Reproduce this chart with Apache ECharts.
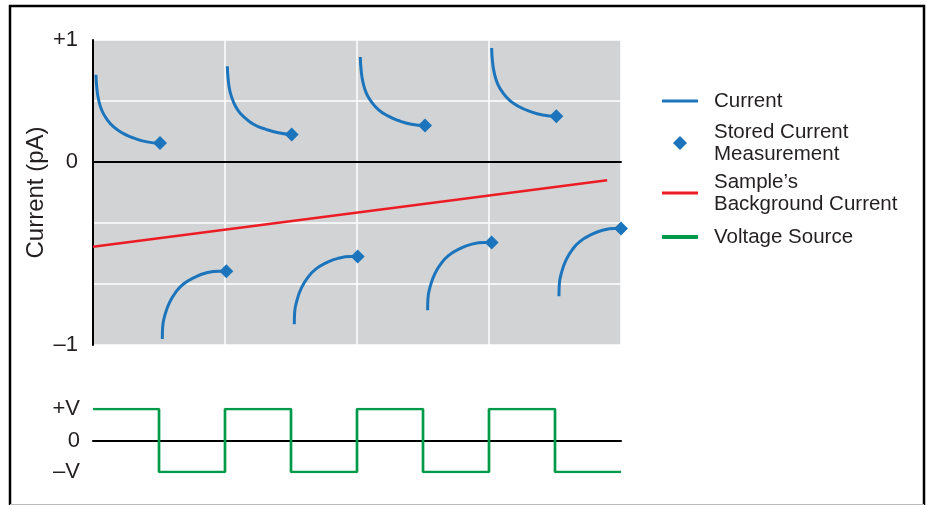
<!DOCTYPE html>
<html>
<head>
<meta charset="utf-8">
<script src="https://cdn.jsdelivr.net/npm/echarts@6/dist/echarts.min.js"></script>
<style>
  html, body { margin: 0; padding: 0; background: #fff; }
  #chart { width: 927px; height: 505px; }
</style>
</head>
<body>
<div id="chart"></div>
<script>
// x in half-periods of the square wave (0..8), y in grid units (0 = zero current)
var decayArc1 = [[0.045,1.43],[0.058,1.21],[0.085,1.02],[0.136,0.84],[0.212,0.70],[0.318,0.57],[0.455,0.47],[0.621,0.39],[0.818,0.33],[1.015,0.31]];
var decayArc2 = [[2.035,1.57],[2.048,1.36],[2.075,1.16],[2.126,0.99],[2.202,0.84],[2.308,0.72],[2.445,0.61],[2.611,0.54],[2.808,0.48],[3.01,0.45]];
var decayArc3 = [[4.05,1.72],[4.063,1.50],[4.09,1.31],[4.141,1.13],[4.217,0.99],[4.323,0.86],[4.46,0.76],[4.626,0.68],[4.823,0.62],[5.03,0.60]];
var decayArc4 = [[6.04,1.87],[6.053,1.65],[6.08,1.46],[6.131,1.28],[6.207,1.14],[6.313,1.01],[6.45,0.91],[6.616,0.83],[6.813,0.77],[7.02,0.75]];

var riseArc1 = [[1.05,-2.90],[1.055,-2.71],[1.095,-2.49],[1.16,-2.30],[1.25,-2.14],[1.37,-2.00],[1.54,-1.89],[1.71,-1.82],[1.91,-1.79],[2.02,-1.79]];
var riseArc2 = [[3.05,-2.66],[3.055,-2.47],[3.095,-2.25],[3.16,-2.06],[3.25,-1.90],[3.37,-1.76],[3.54,-1.65],[3.71,-1.58],[3.91,-1.55],[4.01,-1.55]];
var riseArc3 = [[5.07,-2.43],[5.075,-2.24],[5.115,-2.02],[5.18,-1.83],[5.27,-1.67],[5.39,-1.53],[5.56,-1.42],[5.73,-1.35],[5.93,-1.32],[6.04,-1.32]];
var riseArc4 = [[7.06,-2.20],[7.065,-2.01],[7.105,-1.79],[7.17,-1.60],[7.26,-1.44],[7.38,-1.30],[7.55,-1.19],[7.72,-1.12],[7.90,-1.09],[8.00,-1.09]];

var storedPoints = [[1.015,0.31],[3.01,0.45],[5.03,0.60],[7.02,0.75],[2.02,-1.79],[4.01,-1.55],[6.04,-1.32],[8.00,-1.09]];
var backgroundLine = [[0,-1.39],[7.79,-0.30]];

var voltageX = [0,1,2,3,4,5,6,7,8];
var voltageY = [1,-1,1,-1,1,-1,1,-1,-1];

var currentTickValues = [2, 0, -3];
var currentTickLabels = ['+1', '0', '–1'];
var voltTickValues = [1, 0, -1];
var voltTickLabels = ['+V', '0', '–V'];

var legendNames = ['Current', 'Stored Current Measurement', "Sample’s Background Current", 'Voltage Source'];
var legendTexts = ['Current', 'Stored Current\nMeasurement', "Sample’s\nBackground Current", 'Voltage Source'];

var BLUE = '#1c75bc', RED = '#ed1c24', GREEN = '#009a4a', GRAY = '#d1d3d4';
var FONT = '"Liberation Sans", Arial, sans-serif';

function tickFormatter(values, labels) {
    return function (v) {
        var i = values.indexOf(v);
        return i < 0 ? '' : labels[i];
    };
}

var myChart = echarts.init(document.getElementById('chart'));

var arcSeries = [decayArc1, decayArc2, decayArc3, decayArc4, riseArc1, riseArc2, riseArc3, riseArc4].map(function (arc) {
    return {
        name: 'Current',
        type: 'line',
        xAxisIndex: 0,
        yAxisIndex: 0,
        data: arc,
        smooth: 0.5,
        showSymbol: false,
        color: BLUE,
        lineStyle: { color: BLUE, width: 3 },
        z: 3
    };
});

var voltageData = voltageX.map(function (x, i) { return [x, voltageY[i]]; });

// legend: one block per entry so each row lands where the picture has it
function legendBlock(idx, left, top, icon, w, h, padLeft) {
    return {
        data: [legendNames[idx]],
        orient: 'vertical',
        left: left,
        top: top,
        padding: 0,
        icon: icon,
        itemWidth: w,
        itemHeight: h,
        selectedMode: false,
        formatter: function () { return legendTexts[idx]; },
        textStyle: {
            fontFamily: FONT,
            fontSize: 20.5,
            lineHeight: 22,
            color: '#231f20',
            padding: [0, 0, 0, padLeft]
        }
    };
}

var option = {
    animation: false,
    backgroundColor: '#fff',
    graphic: [
        { type: 'rect', shape: { x: 10, y: 6, width: 914, height: 520 },
          style: { fill: null, stroke: '#000', lineWidth: 2.5 }, silent: true },
        { type: 'line', shape: { x1: 10, y1: 504.5, x2: 924, y2: 504.5 },
          style: { stroke: '#bbbbbb', lineWidth: 1 }, silent: true }
    ],
    legend: [
        legendBlock(0, 662, 90, 'rect', 36, 3, 11),
        legendBlock(1, 673, 121, 'diamond', 14, 14, 22),
        legendBlock(2, 662, 171, 'rect', 36, 3, 11),
        legendBlock(3, 662, 226, 'rect', 36, 4, 11)
    ],
    grid: [
        { left: 93, right: 306, top: 40, bottom: 160, show: true, backgroundColor: GRAY, borderWidth: 0 },
        { left: 93, right: 306, top: 409, height: 63 }
    ],
    xAxis: [
        {
            gridIndex: 0, type: 'value', min: 0, max: 8, interval: 2,
            axisLine: { onZero: true, lineStyle: { color: '#000', width: 2 } },
            axisTick: { show: false },
            axisLabel: { show: false },
            splitLine: { show: true, lineStyle: { color: '#fff', width: 1.5 } }
        },
        {
            gridIndex: 1, type: 'value', min: 0, max: 8, interval: 1,
            axisLine: { onZero: true, lineStyle: { color: '#000', width: 2 } },
            axisTick: { show: false },
            axisLabel: { show: false },
            splitLine: { show: false }
        }
    ],
    yAxis: [
        {
            gridIndex: 0, type: 'value', min: -3, max: 2, interval: 1,
            name: 'Current (pA)',
            nameLocation: 'middle',
            nameGap: 45,
            nameMoveOverlap: false,
            nameTextStyle: { fontFamily: FONT, fontSize: 24, color: '#231f20' },
            axisLine: { show: true, onZero: false, lineStyle: { color: '#000', width: 2 } },
            axisTick: { show: false },
            axisLabel: {
                margin: 15, fontFamily: FONT, fontSize: 22, color: '#231f20',
                formatter: tickFormatter(currentTickValues, currentTickLabels)
            },
            splitLine: { show: true, lineStyle: { color: '#fff', width: 1.5 } }
        },
        {
            gridIndex: 1, type: 'value', min: -1, max: 1, interval: 1,
            axisLine: { show: false },
            axisTick: { show: false },
            axisLabel: {
                margin: 13, fontFamily: FONT, fontSize: 22, color: '#231f20',
                formatter: tickFormatter(voltTickValues, voltTickLabels)
            },
            splitLine: { show: false }
        }
    ],
    series: arcSeries.concat([
        {
            name: "Sample’s Background Current",
            type: 'line',
            xAxisIndex: 0, yAxisIndex: 0,
            data: backgroundLine,
            showSymbol: false,
            color: RED,
            lineStyle: { color: RED, width: 2.5 },
            z: 2
        },
        {
            name: 'Stored Current Measurement',
            type: 'scatter',
            xAxisIndex: 0, yAxisIndex: 0,
            data: storedPoints,
            symbol: 'diamond',
            symbolSize: 14,
            clip: false,
            color: BLUE,
            itemStyle: { color: BLUE, opacity: 1 },
            z: 4
        },
        {
            name: 'Voltage Source',
            type: 'line',
            xAxisIndex: 1, yAxisIndex: 1,
            data: voltageData,
            step: 'end',
            showSymbol: false,
            color: GREEN,
            lineStyle: { color: GREEN, width: 2.7 },
            z: 3
        }
    ])
};

myChart.setOption(option);
</script>
</body>
</html>
